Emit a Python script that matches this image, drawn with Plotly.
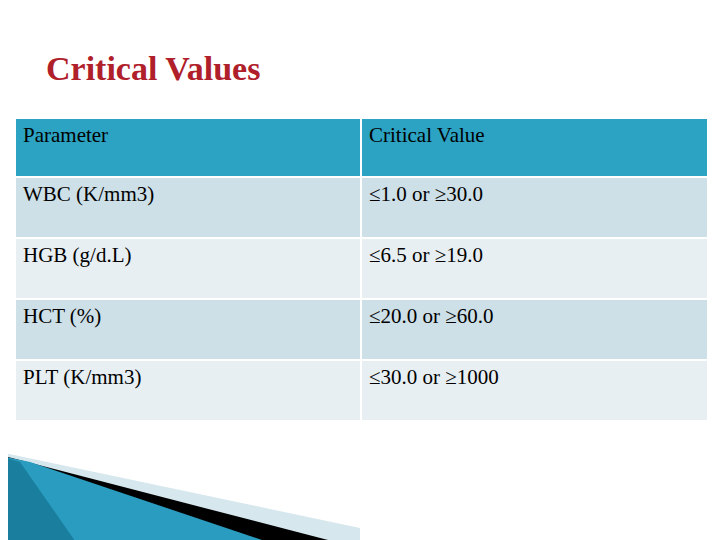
import plotly.graph_objects as go

headers = ["Parameter", "Critical Value"]
parameters = ["WBC (K/mm3)", "HGB (g/d.L)", "HCT (%)", "PLT (K/mm3)"]
critical_values = ["≤1.0 or ≥30.0", "≤6.5 or ≥19.0", "≤20.0 or ≥60.0", "≤30.0 or ≥1000"]

W, H = 720, 540
OX, OY = 8, 8
def px(x): return (x - OX) / W
def py(y): return 1 - (y - OY) / H

row_colors = ["#CDDFE7", "#E8EFF3", "#CDDFE7", "#E8EFF3"]
fig = go.Figure(go.Table(
    domain=dict(x=[px(15), px(708)], y=[py(423), py(118)]),
    columnwidth=[346, 347],
    header=dict(values=headers, fill_color="#2CA3C2", line=dict(color="white", width=2),
                align="left", height=59,
                font=dict(family="Liberation Serif", size=21, color="black")),
    cells=dict(values=[parameters, critical_values], fill_color=[row_colors, row_colors],
               line=dict(color="white", width=2), align="left", height=61,
               font=dict(family="Liberation Serif", size=21, color="black")),
))

shapes = [
    dict(type="path", xref="paper", yref="paper", line=dict(width=0), fillcolor="#D6E7EE",
         path=f"M {px(0)} {py(452)} L {px(360)} {py(528)} L {px(360)} {py(548)} L {px(0)} {py(548)} Z"),
    dict(type="path", xref="paper", yref="paper", line=dict(width=0), fillcolor="#000000",
         path=f"M {px(0)} {py(455)} L {px(328)} {py(540)} L {px(330)} {py(548)} L {px(0)} {py(548)} Z"),
    dict(type="path", xref="paper", yref="paper", line=dict(width=0), fillcolor="#2A9CC0",
         path=f"M {px(0)} {py(456)} L {px(30)} {py(462)} L {px(262)} {py(540)} L {px(265)} {py(548)} L {px(0)} {py(548)} Z"),
    dict(type="path", xref="paper", yref="paper", line=dict(width=0), fillcolor="#1A7F9E",
         path=f"M {px(0)} {py(456)} L {px(20)} {py(462)} L {px(80)} {py(548)} L {px(0)} {py(548)} Z"),
]
fig.update_layout(
    width=W, height=H, margin=dict(l=0, r=0, t=0, b=0),
    paper_bgcolor="white", plot_bgcolor="white", shapes=shapes,
    annotations=[dict(text="<b>Critical Values</b>", x=px(44), y=py(68), xref="paper", yref="paper",
                      xanchor="left", yanchor="middle", showarrow=False,
                      font=dict(family="Liberation Serif", size=34, color="#B0202A"))],
)
fig.write_html("out.html")
